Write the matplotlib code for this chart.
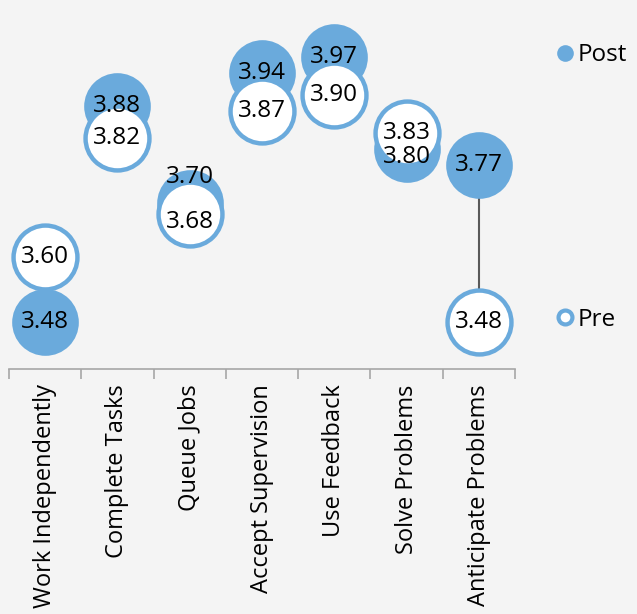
import numpy as np
import matplotlib.pyplot as plt
from matplotlib.lines import Line2D

plt.rcParams['font.family'] = ['Open Sans', 'DejaVu Sans']

categories = ['Work Independently', 'Complete Tasks', 'Queue Jobs',
              'Accept Supervision', 'Use Feedback', 'Solve Problems',
              'Anticipate Problems']
post = [3.48, 3.88, 3.70, 3.94, 3.97, 3.80, 3.77]
pre = [3.60, 3.82, 3.68, 3.87, 3.90, 3.83, 3.48]

# small label nudges (points) where bubbles overlap
post_dy = [0, 0, 19, 0, 0, -6, 0]
pre_dy = [0, 0, -6, 0, 0, 0, 0]

blue = '#6aaadc'
bg = '#f4f4f4'

fig = plt.figure(figsize=(6.37, 6.14), dpi=100, facecolor=bg)
ax = fig.add_axes([9 / 637, 245 / 614, 506 / 637, 369 / 614])
ax.set_facecolor(bg)

x = np.arange(len(categories))

# connector between pre and post
for xi, a, b in zip(x, post, pre):
    ax.plot([xi, xi], [a, b], color='#595959', lw=1.5, zorder=1)

ax.plot(x, post, 'o', ls='none', ms=48, color=blue, mec=blue, mew=0, zorder=2)
ax.plot(x, pre, 'o', ls='none', ms=46, mfc='white', mec=blue, mew=3.2, zorder=3)

for xi, v, dy in zip(x, post, post_dy):
    ax.annotate('%.2f' % v, (xi, v), xytext=(0, dy), textcoords='offset points',
                ha='center', va='center', fontsize=17.5, zorder=5)
for xi, v, dy in zip(x, pre, pre_dy):
    ax.annotate('%.2f' % v, (xi, v), xytext=(0, dy), textcoords='offset points',
                ha='center', va='center', fontsize=17.5, zorder=5)

ax.set_xlim(-0.5, len(categories) - 0.5)
ax.set_ylim(3.393, 4.075)

for s in ['left', 'right', 'top']:
    ax.spines[s].set_visible(False)
ax.spines['bottom'].set_color('#a6a6a6')
ax.spines['bottom'].set_linewidth(1.2)
ax.set_yticks([])

ax.set_xticks(x)
ax.set_xticklabels(categories, rotation=90, fontsize=17)
ax.tick_params(axis='x', which='major', length=0, pad=11)
ax.set_xticks(np.arange(len(categories) + 1) - 0.5, minor=True)
ax.tick_params(axis='x', which='minor', length=7, color='#a6a6a6', width=1.2)

handles = [
    Line2D([], [], marker='o', ls='none', ms=12, color=blue, mew=0),
    Line2D([], [], marker='o', ls='none', ms=10, mfc='white', mec=blue, mew=3),
]
fig.legend(handles, ['Post', 'Pre'], loc='upper left', bbox_to_anchor=(541 / 637, 1 - 31 / 614),
           frameon=False, fontsize=17.5, labelspacing=9.9, handletextpad=0.05,
           handlelength=0.95, borderpad=0)

fig.savefig('out.png', dpi=100, facecolor=bg)
